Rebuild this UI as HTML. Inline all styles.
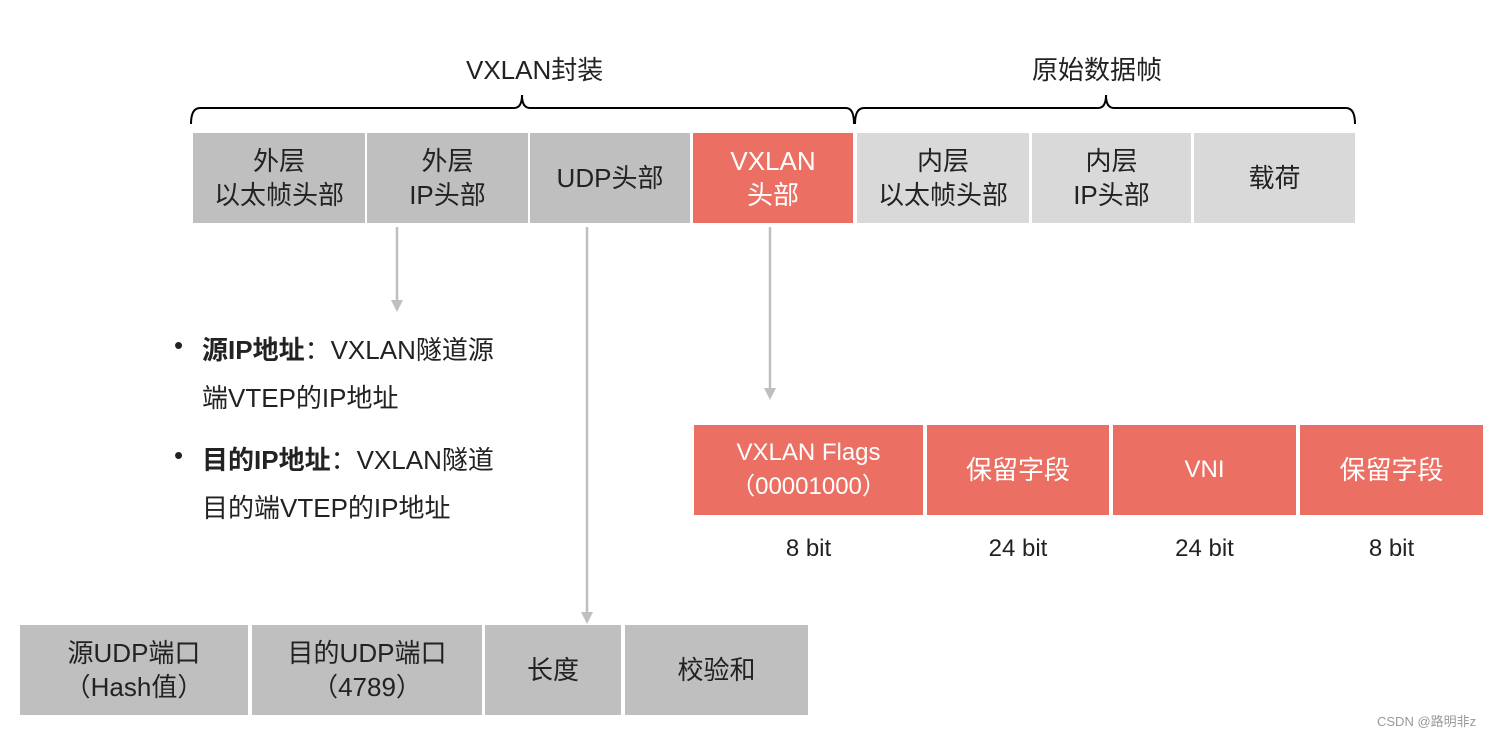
<!DOCTYPE html>
<html><head><meta charset="utf-8"><style>
body{margin:0;width:1507px;height:736px;background:#fff;position:relative;overflow:hidden;font-family:"Liberation Sans","Noto Sans CJK SC",sans-serif;}
.c{position:absolute;display:flex;align-items:center;justify-content:center;text-align:center;font-size:26px;line-height:34px;color:#222;}
.g{background:#bfbfbf}.l{background:#d9d9d9}.r{background:#eb7063;color:#fff}
.t{position:absolute;font-size:26px;color:#222;white-space:nowrap}
</style></head><body>
<div class="t" style="left:466px;top:50px;">VXLAN封装</div>
<div class="t" style="left:1032px;top:50px;">原始数据帧</div>
<svg width="1507" height="736" style="position:absolute;left:0;top:0">
<path d="M191,124 Q191,108 200,108 L514,108 Q522,108 522,95 Q522,108 530,108 L846,108 Q854,108 854,124" fill="none" stroke="#000" stroke-width="2"/>
<path d="M855,124 Q855,108 864,108 L1098,108 Q1106,108 1106,95 Q1106,108 1114,108 L1346,108 Q1355,108 1355,124" fill="none" stroke="#000" stroke-width="2"/>
<g stroke="#bfbfbf" stroke-width="2.5"><line x1="397" y1="227" x2="397" y2="302"/><line x1="587" y1="227" x2="587" y2="614"/><line x1="770" y1="227" x2="770" y2="390"/></g>
<g fill="#bfbfbf"><path d="M391,300 L403,300 L397,312Z"/><path d="M581,612 L593,612 L587,624Z"/><path d="M764,388 L776,388 L770,400Z"/></g>
</svg>
<div class="c g" style="left:193px;top:133px;width:172px;height:90px;">外层<br>以太帧头部</div>
<div class="c g" style="left:367px;top:133px;width:161px;height:90px;">外层<br>IP头部</div>
<div class="c g" style="left:530px;top:133px;width:160px;height:90px;">UDP头部</div>
<div class="c r" style="left:693px;top:133px;width:160px;height:90px;">VXLAN<br>头部</div>
<div class="c l" style="left:857px;top:133px;width:172px;height:90px;">内层<br>以太帧头部</div>
<div class="c l" style="left:1032px;top:133px;width:159px;height:90px;">内层<br>IP头部</div>
<div class="c l" style="left:1194px;top:133px;width:161px;height:90px;">载荷</div>
<div class="t" style="left:174px;top:330px;">•</div>
<div class="t" style="left:202px;top:330px;"><b>源IP地址</b>：VXLAN隧道源</div>
<div class="t" style="left:202px;top:378px;">端VTEP的IP地址</div>
<div class="t" style="left:174px;top:440px;">•</div>
<div class="t" style="left:202px;top:440px;"><b>目的IP地址</b>：VXLAN隧道</div>
<div class="t" style="left:202px;top:488px;">目的端VTEP的IP地址</div>
<div class="c r" style="left:694px;top:425px;width:229px;height:90px;font-size:24px">VXLAN Flags<br>（00001000）</div>
<div class="c r" style="left:927px;top:425px;width:182px;height:90px;">保留字段</div>
<div class="c r" style="left:1113px;top:425px;width:183px;height:90px;font-size:24px">VNI</div>
<div class="c r" style="left:1300px;top:425px;width:183px;height:90px;">保留字段</div>
<div class="c" style="left:694px;top:532px;width:229px;height:34px;font-size:24px">8 bit</div>
<div class="c" style="left:927px;top:532px;width:182px;height:34px;font-size:24px">24 bit</div>
<div class="c" style="left:1113px;top:532px;width:183px;height:34px;font-size:24px">24 bit</div>
<div class="c" style="left:1300px;top:532px;width:183px;height:34px;font-size:24px">8 bit</div>
<div class="c g" style="left:20px;top:625px;width:228px;height:90px;">源UDP端口<br>（Hash值）</div>
<div class="c g" style="left:252px;top:625px;width:230px;height:90px;">目的UDP端口<br>（4789）</div>
<div class="c g" style="left:485px;top:625px;width:136px;height:90px;">长度</div>
<div class="c g" style="left:625px;top:625px;width:183px;height:90px;">校验和</div>
<div class="t" style="left:1377px;top:711px;font-size:13px;color:#999">CSDN @路明非z</div>
</body></html>
